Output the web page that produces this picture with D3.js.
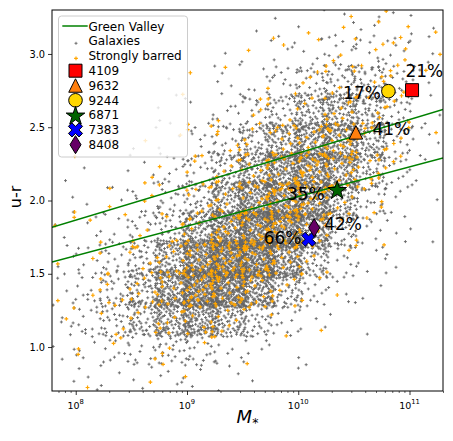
<!DOCTYPE html>
<html><head><meta charset="utf-8">
<script src="https://cdn.jsdelivr.net/npm/d3@7"></script>
<style>
body{margin:0;background:#fff}
svg{display:block}
text{font-family:"DejaVu Sans",sans-serif}
</style>
</head><body>
<svg id="chart" width="453" height="441"></svg>
<script>
// ---------------- DATA ----------------
// log10(M*) lower edges of mass bins (width 0.25 dex)
const massBins = [7.75,8.0,8.25,8.5,8.75,9.0,9.25,9.5,9.75,10.0,10.25,10.5,10.75,11.0];
const massBinWidth = 0.25;
// u-r lower edges of colour bins (width 0.2 mag), top row first
const urBins = [3.1,2.9,2.7,2.5,2.3,2.1,1.9,1.7,1.5,1.3,1.1,0.9,0.7];
const urBinWidth = 0.2;
// number of galaxies per (colour row, mass column)
const galaxyCounts = [
  [0,0,0,0,0,0,0,1,1,2,4,5,5,3],
  [0,0,0,0,0,0,1,2,5,8,10,10,8,4],
  [0,0,0,0,1,2,4,8,14,25,40,40,22,5],
  [0,0,0,1,2,4,9,20,40,70,90,65,25,5],
  [0,0,1,2,4,10,25,50,90,130,130,80,25,4],
  [1,1,2,4,10,22,50,100,160,180,130,55,12,3],
  [2,2,4,8,20,45,100,170,210,180,80,25,6,2],
  [3,4,8,18,45,110,190,250,230,140,40,10,3,1],
  [4,8,18,40,100,220,290,260,160,60,15,5,2,1],
  [6,12,28,65,150,260,250,160,60,18,5,2,1,0],
  [8,15,30,60,110,140,90,40,14,4,2,1,0,0],
  [4,8,12,18,25,22,10,5,3,1,0,0,0,0],
  [1,3,4,5,6,5,3,1,1,0,0,0,0,0]
];
// number of strongly barred galaxies per cell
const barredCounts = [
  [0,0,0,0,0,0,0,0,1,1,1,2,3,2],
  [0,0,0,0,0,0,0,1,1,2,3,3,3,2],
  [0,0,0,0,0,1,1,1,2,3,4,5,4,1],
  [0,0,0,0,1,1,2,3,4,6,8,8,4,1],
  [0,0,1,1,2,2,4,6,10,16,18,10,3,1],
  [0,1,1,2,2,4,7,10,18,24,18,10,2,0],
  [1,1,1,2,3,6,10,20,26,20,8,3,1,0],
  [1,1,2,3,5,10,20,26,26,12,3,1,0,0],
  [1,2,3,5,10,24,30,28,14,5,1,1,0,0],
  [2,3,4,8,15,28,26,14,5,2,1,0,0,0],
  [1,2,3,5,8,10,7,3,1,1,0,0,0,0],
  [1,1,2,2,3,2,1,1,0,0,0,0,0,0],
  [0,1,0,1,1,0,0,0,0,0,0,0,0,0]
];
// green valley boundaries: [M*, u-r] end points
const greenValleyUpper = [[6.12e7,1.818],[2.0e11,2.622]];
const greenValleyLower = [[6.12e7,1.580],[2.0e11,2.290]];
// highlighted galaxies
const specialIds   = ["4109","9632","9244","6871","7383","8408"];
const specialMass  = [1.054e11,3.30e10,6.46e10,2.24e10,1.24e10,1.39e10];
const specialUR    = [2.753,2.465,2.746,2.075,1.735,1.814];
const specialLabel = ["21%","41%","17%","35%","66%","42%"];
// axis ticks
const xMajorTicks = [1e8,1e9,1e10,1e11];
const xTickExp = ["8","9","10","11"];
const yTicks = [1.0,1.5,2.0,2.5,3.0];

// ---------------- STYLE / LAYOUT ----------------
const plot={l:52,r:443,t:10,b:391};
const specialStyle = [
  {shape:"square",  fill:"#ff0000", dx:-6.6, dy:-13, anchor:"start"},
  {shape:"triangle",fill:"#ff7f0e", dx:16.5, dy:2.5, anchor:"start"},
  {shape:"circle",  fill:"#ffd700", dx:-7.5, dy:8, anchor:"end"},
  {shape:"star",    fill:"#006400", dx:-12.5, dy:10.7, anchor:"end"},
  {shape:"x",       fill:"#0000ff", dx:-7.2, dy:4.5, anchor:"end"},
  {shape:"diamond", fill:"#660066", dx:10, dy:1.8, anchor:"start"}
];

function shapePath(s){
  switch(s){
    case "square": {const a=13; return `M${-a/2},${-a/2}h${a}v${a}h${-a}Z`;}
    case "triangle": {const a=13.5; return `M0,${-a/2}L${a/2},${a/2}L${-a/2},${a/2}Z`;}
    case "circle": {const r=6.8; return `M${r},0A${r},${r},0,1,1,${-r},0A${r},${r},0,1,1,${r},0Z`;}
    case "star": {
      const R=9.8, ri=R*0.381966; let p="";
      for(let i=0;i<10;i++){const rr=i%2?ri:R; const a=-Math.PI/2+i*Math.PI/5;
        p+=(i?"L":"M")+(rr*Math.cos(a)).toFixed(2)+","+(rr*Math.sin(a)+1).toFixed(2);}
      return p+"Z";}
    case "x": {
      const s=15/6; const v=[[-1,-3],[1,-3],[1,-1],[3,-1],[3,1],[1,1],[1,3],[-1,3],[-1,1],[-3,1],[-3,-1],[-1,-1]];
      const c=Math.SQRT1_2;
      return v.map((q,i)=>(i?"L":"M")+(s*(q[0]-q[1])*c).toFixed(2)+","+(s*(q[0]+q[1])*c).toFixed(2)).join("")+"Z";}
    case "diamond": {const h=18,w=11; return `M0,${-h/2}L${w/2},0L0,${h/2}L${-w/2},0Z`;}
  }
}

function halton(i,b){let f=1,r=0;while(i>0){f/=b;r+=f*(i%b);i=Math.floor(i/b);}return r;}
function expand(counts,b1,b2){
  const pts=[];let idx=1;
  counts.forEach((row,ri)=>row.forEach((n,ci)=>{
    for(let k=0;k<n;k++){
      const u=halton(idx,b1),v=halton(idx,b2);idx++;
      pts.push({m:Math.pow(10,massBins[ci]+(u*1.3-0.15)*massBinWidth),
                ur:urBins[ri]+(v*1.3-0.15)*urBinWidth});
    }}));
  return pts;
}
const galaxies=expand(galaxyCounts,2,3);
const barred=expand(barredCounts,5,7);

// ---------------- CHART ----------------
const svg=d3.select("#chart");
const x=d3.scaleLog().domain([6.12e7,2.0e11]).range([plot.l,plot.r]);
const y=d3.scaleLinear().domain([0.7,3.3]).range([plot.b,plot.t]);

svg.append("defs").append("clipPath").attr("id","clip")
  .append("rect").attr("x",plot.l).attr("y",plot.t).attr("width",plot.r-plot.l).attr("height",plot.b-plot.t);
const g=svg.append("g").attr("clip-path","url(#clip)");

g.append("g").selectAll("path").data(galaxies).join("path")
  .attr("d","M-1.5,0H1.5M0,-1.5V1.5")
  .attr("transform",d=>`translate(${x(d.m)},${y(d.ur)})`)
  .attr("stroke","#666666").attr("stroke-width",0.9).attr("fill","none");

g.append("g").selectAll("path").data(barred).join("path")
  .attr("d","M-1.9,0H1.9M0,-1.9V1.9")
  .attr("transform",d=>`translate(${x(d.m)},${y(d.ur)})`)
  .attr("stroke","#ffa500").attr("stroke-width",1.2).attr("fill","none");

const line=d3.line().x(d=>x(d[0])).y(d=>y(d[1]));
[greenValleyUpper,greenValleyLower].forEach(l=>{
  g.append("path").attr("d",line(l)).attr("stroke","#008000").attr("stroke-width",1.5).attr("fill","none");
});

const specials=specialIds.map((id,i)=>({id,m:specialMass[i],ur:specialUR[i],label:specialLabel[i],st:specialStyle[i]}));
g.append("g").selectAll("path").data(specials).join("path")
  .attr("d",d=>shapePath(d.st.shape))
  .attr("transform",d=>`translate(${x(d.m)},${y(d.ur)})`)
  .attr("fill",d=>d.st.fill).attr("stroke","#000").attr("stroke-width",1);

svg.append("g").selectAll("text").data(specials).join("text")
  .attr("x",d=>x(d.m)+d.st.dx).attr("y",d=>y(d.ur)+d.st.dy)
  .attr("text-anchor",d=>d.st.anchor)
  .attr("font-size",17).attr("fill","#000").text(d=>d.label);

// axes
const minor=[];
for(let e=7;e<=11;e++)for(let k=2;k<=9;k++){const v=k*Math.pow(10,e);if(v>=6.12e7&&v<=2.0e11)minor.push(v);}
svg.append("g").attr("transform",`translate(0,${plot.b})`)
  .call(d3.axisBottom(x).tickValues(minor).tickSize(2).tickSizeOuter(0).tickFormat(""))
  .call(a=>a.select(".domain").remove())
  .call(a=>a.selectAll("line").attr("stroke","#000").attr("stroke-width",0.6));
svg.append("g").attr("transform",`translate(0,${plot.b})`)
  .call(d3.axisBottom(x).tickValues(xMajorTicks).tickSize(4).tickSizeOuter(0).tickFormat(""))
  .call(a=>a.select(".domain").remove())
  .call(a=>a.selectAll("line").attr("stroke","#000").attr("stroke-width",0.8));
xMajorTicks.forEach((t,i)=>{
  const tx=svg.append("text").attr("x",x(t)).attr("y",408.5).attr("text-anchor","middle")
    .attr("font-size",9.5).attr("fill","#000");
  tx.append("tspan").text("10");
  tx.append("tspan").attr("dy",-4.3).attr("font-size",6.8).text(xTickExp[i]);
});
svg.append("g").attr("transform",`translate(${plot.l},0)`)
  .call(d3.axisLeft(y).tickValues(yTicks).tickSize(4).tickPadding(3).tickSizeOuter(0).tickFormat(d3.format(".1f")))
  .call(a=>a.select(".domain").remove())
  .call(a=>a.selectAll("line").attr("stroke","#000").attr("stroke-width",0.8))
  .call(a=>a.selectAll("text").attr("font-size",9.8).attr("fill","#000").attr("font-family","DejaVu Sans"));

svg.append("rect").attr("x",plot.l).attr("y",plot.t).attr("width",plot.r-plot.l).attr("height",plot.b-plot.t)
  .attr("fill","none").attr("stroke","#000").attr("stroke-width",1);

// axis labels
svg.append("text").attr("transform","translate(21,197) rotate(-90)").attr("text-anchor","middle")
  .attr("font-size",16).attr("fill","#000").text("u-r");
const xl=svg.append("text").attr("x",247.5).attr("y",423).attr("text-anchor","middle").attr("fill","#000");
xl.append("tspan").attr("font-size",18).attr("font-style","italic").text("M");
xl.append("tspan").attr("font-size",12.5).attr("dy",4).text("*");

// legend
const lg=svg.append("g");
lg.append("rect").attr("x",58.5).attr("y",16).attr("width",129).attr("height",141).attr("rx",3)
  .attr("fill","#fff").attr("fill-opacity",0.8).attr("stroke","#cccccc").attr("stroke-width",1);
const lx=75.5, tx0=88.5, rowH=14.8, base0=30.6;
lg.append("line").attr("x1",62.3).attr("x2",87.7).attr("y1",26).attr("y2",26).attr("stroke","#008000").attr("stroke-width",1.5);
lg.append("path").attr("d","M-1.5,0H1.5M0,-1.5V1.5").attr("transform",`translate(76,43.3)`).attr("stroke","#666").attr("stroke-width",0.9);
lg.append("path").attr("d","M-1.9,0H1.9M0,-1.9V1.9").attr("transform",`translate(76,58.3)`).attr("stroke","#ffa500").attr("stroke-width",1.2);
const legendNames=["Green Valley","Galaxies","Strongly barred"].concat(specialIds);
legendNames.forEach((n,i)=>{
  lg.append("text").attr("x",tx0).attr("y",base0+i*rowH).attr("font-size",12).attr("fill","#000").text(n);
});
specials.forEach((d,i)=>{
  lg.append("path").attr("d",shapePath(d.st.shape)).attr("transform",`translate(${lx},${base0+(i+3)*rowH-4.3})`)
    .attr("fill",d.st.fill).attr("stroke","#000").attr("stroke-width",1);
});
</script>
</body></html>
